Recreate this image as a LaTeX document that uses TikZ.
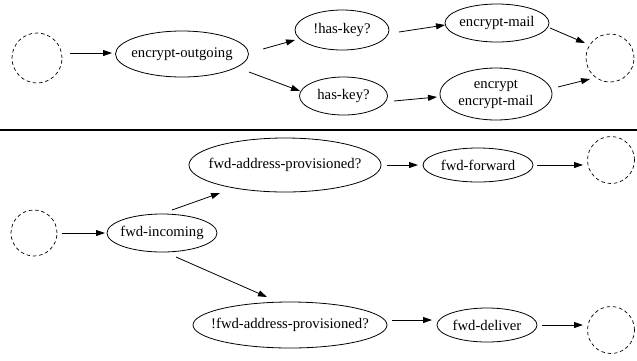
\documentclass[tikz,border=0pt]{standalone}
\usepackage{fontspec}
\setmainfont{Liberation Serif}
\usetikzlibrary{shapes.geometric,arrows.meta,calc}
\newcommand{\zt}[1]{\makebox[0pt]{#1}}
\begin{document}
\begin{tikzpicture}[x=1pt,y=-1pt,
  every node/.style={font=\fontsize{14.7}{17}\selectfont},
  st/.style={draw,ellipse,inner sep=0pt,line width=0.8pt},
  term/.style={draw,circle,dash pattern=on 3.5pt off 2.8pt,inner sep=0pt,line width=0.7pt},
  edge/.style={line width=0.8pt,-{Triangle[length=9pt,width=6pt]}}]
\useasboundingbox (0,0) rectangle (637,360);
% top
\node[term,minimum size=50pt] (c1) at (37,58) {};
\node[st,minimum width=133pt,minimum height=46pt] (eo) at (182,54) {\zt{encrypt-outgoing}};
\node[st,minimum width=94pt,minimum height=40pt] (nhk) at (342,30) {\zt{!has-key?}};
\node[st,minimum width=88pt,minimum height=38pt] (hk) at (343.5,96) {\zt{has-key?}};
\node[st,minimum width=104pt,minimum height=38pt] (em) at (497,23) {\zt{encrypt-mail}};
\node[st,minimum width=112pt,minimum height=52pt] (enc) at (496,94) {\zt{\begin{tabular}{@{}c@{}}encrypt\\encrypt-mail\end{tabular}}};
\node[term,minimum size=48pt] (c2) at (610,58) {};
% separator
\draw[line width=2.2pt] (0,130) -- (637,130);
% bottom
\node[term,minimum size=46pt] (c3) at (34,233) {};
\node[st,minimum width=110pt,minimum height=38pt] (fi) at (162,233) {\zt{fwd-incoming}};
\node[st,minimum width=192pt,minimum height=54pt] (fap) at (285,165) {\zt{fwd-address-provisioned?}};
\node[st,minimum width=110pt,minimum height=34pt] (ff) at (478,165) {\zt{fwd-forward}};
\node[term,minimum size=47pt] (c4) at (611,160) {};
\node[st,minimum width=194pt,minimum height=46pt] (nfap) at (290,325) {\zt{!fwd-address-provisioned?}};
\node[st,minimum width=100pt,minimum height=34pt] (fd) at (487,325) {\zt{fwd-deliver}};
\node[term,minimum size=47pt] (c5) at (611,330) {};
% edges
\draw[edge] ($(c1)+(33,-5)$) -- ($(eo)+(-70,-1)$);
\draw[edge] ($(eo)+(81,-5)$) -- ($(nhk)+(-47,10)$);
\draw[edge] ($(eo)+(67,18)$) -- ($(hk)+(-43.5,-5)$);
\draw[edge] ($(nhk)+(57,2)$) -- ($(em)+(-52,2)$);
\draw[edge] ($(hk)+(50.5,5)$) -- ($(enc)+(-59,3)$);
\draw[edge] ($(em)+(53,5)$) -- ($(c2)+(-25,-15)$);
\draw[edge] ($(enc)+(62,-7)$) -- ($(c2)+(-20,21)$);
\draw[edge] ($(c3)+(28,0)$) -- ($(fi)+(-57,0)$);
\draw[edge] ($(fi)+(10,-23)$) -- ($(fap)+(-65,28)$);
\draw[edge] ($(fi)+(14,24)$) -- ($(nfap)+(-23,-28)$);
\draw[edge] ($(fap)+(102,0)$) -- ($(ff)+(-60,0)$);
\draw[edge] ($(ff)+(59,0)$) -- ($(c4)+(-28,5)$);
\draw[edge] ($(nfap)+(102,-5)$) -- ($(fd)+(-55,-5)$);
\draw[edge] ($(fd)+(55,0)$) -- ($(c5)+(-28,-5)$);
\end{tikzpicture}
\end{document}
